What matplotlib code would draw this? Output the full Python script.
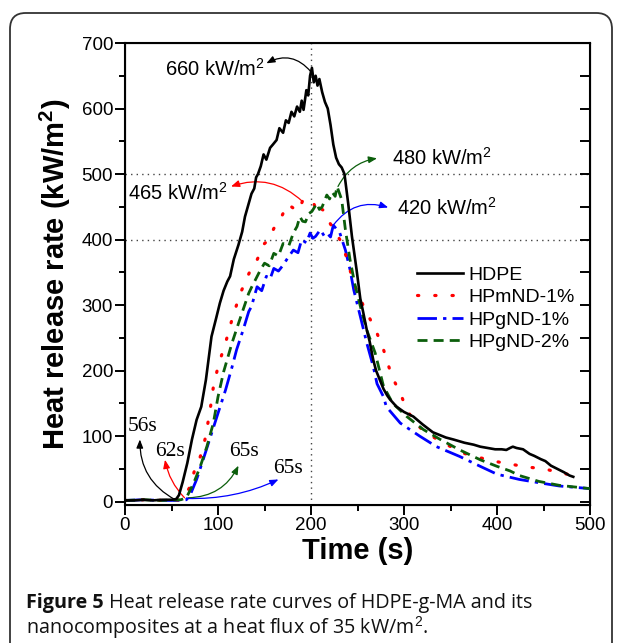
import numpy as np
import matplotlib
matplotlib.use("Agg")
import matplotlib.pyplot as plt
from matplotlib.patches import FancyBboxPatch
from matplotlib.ticker import MultipleLocator

plt.rcParams["font.family"] = ["Liberation Sans", "DejaVu Sans"]
plt.rcParams["mathtext.fontset"] = "custom"
plt.rcParams["mathtext.rm"] = "Liberation Sans"
plt.rcParams["mathtext.bf"] = "Liberation Sans:bold"

# HDPE
t_hdpe = [0, 10, 20, 30, 40, 50, 55, 58, 62, 67, 72, 77, 82, 87, 93, 98, 102, 106, 110, 113,
          117, 122, 126, 129, 133, 136, 139, 141, 143, 146, 149, 152, 156, 159, 163, 166, 170,
          173, 176, 179, 182, 185, 188, 190, 192, 195, 197, 199, 201, 203, 205, 207, 209, 212,
          215, 218, 221, 224, 227, 230, 233, 236, 240, 244, 249, 253, 256, 260, 263, 267, 270,
          274, 278, 282, 285, 292, 300, 310, 320, 331, 345, 353, 365, 375, 382, 390, 398, 405,
          410, 414, 417, 421, 428, 435, 440, 447, 452, 458, 465, 472, 478, 482]
hrr_hdpe = [2, 2, 3, 2, 3, 3, 4, 10, 30, 59, 95, 125, 145, 186, 252, 280, 303, 322, 336, 344,
            370, 392, 412, 435, 455, 470, 478, 495, 500, 512, 530, 522, 540, 545, 552, 570, 563,
            582, 578, 595, 588, 603, 595, 612, 598, 628, 620, 650, 662, 640, 650, 635, 645, 625,
            610, 600, 575, 545, 525, 515, 510, 500, 455, 405, 354, 310, 290, 262, 245, 216, 200,
            186, 172, 162, 156, 145, 137, 130, 118, 106, 98, 95, 90, 87, 84, 82, 80, 80,
            79, 82, 84, 82, 80, 73, 70, 65, 62, 55, 50, 45, 40, 38]

# HPmND-1%
t_pm1 = [0, 20, 40, 60, 64, 70, 75, 81, 86, 91, 95, 100, 109, 116, 124, 131, 137, 142, 150, 155,
         160, 165, 170, 175, 179, 183, 186, 189, 192, 197, 203, 207, 210, 215, 220, 231, 238, 246,
         256, 262, 271, 278, 287, 296, 303, 314, 324, 342, 364, 382, 400, 432, 452, 467, 476, 484]
hrr_pm1 = [2, 3, 2, 3, 8, 23, 49, 69, 95, 135, 175, 206, 247, 283, 318, 341, 360, 369, 394, 400,
           417, 425, 440, 436, 450, 446, 455, 452, 463, 458, 455, 440, 448, 443, 426, 400, 374, 333,
           300, 283, 257, 232, 191, 166, 140, 117, 105, 90, 74, 67, 61, 53, 50, 44, 42, 46]

# HPgND-1%
t_pg1 = [0, 20, 40, 60, 66, 70, 77, 84, 91, 100, 108, 115, 120, 127, 133, 136, 142, 147, 152, 156,
         160, 165, 170, 175, 181, 186, 190, 195, 199, 202, 205, 210, 214, 217, 221, 224, 228, 231,
         237, 242, 246, 253, 260, 267, 271, 278, 281, 296, 317, 335, 360, 382, 400, 424, 445, 467,
         500]
hrr_pg1 = [2, 3, 2, 2, 3, 10, 34, 64, 95, 135, 170, 205, 232, 262, 290, 298, 328, 322, 344, 340,
           356, 352, 361, 372, 384, 380, 400, 395, 410, 402, 405, 415, 406, 410, 404, 422, 415, 410,
           384, 354, 323, 283, 242, 206, 180, 160, 145, 120, 100, 84, 69, 54, 42, 34, 29, 24, 20]

# HPgND-2%
t_pg2 = [0, 20, 40, 60, 66, 74, 81, 88, 95, 100, 106, 115, 122, 127, 133, 137, 140, 145, 150, 155,
         160, 165, 170, 176, 181, 185, 188, 191, 194, 198, 201, 204, 206, 209, 212, 217, 220, 223,
         226, 228, 233, 237, 242, 247, 254, 260, 269, 278, 288, 303, 321, 339, 360, 382, 400, 414,
         424, 445, 467, 500]
hrr_pg2 = [2, 3, 2, 3, 6, 29, 54, 84, 120, 160, 198, 242, 272, 293, 318, 330, 338, 352, 364, 360,
           379, 375, 394, 390, 410, 420, 435, 428, 427, 440, 443, 450, 455, 446, 450, 468, 462, 472,
           466, 481, 461, 415, 369, 333, 293, 262, 227, 176, 150, 130, 110, 95, 79, 64, 54, 47,
           40, 31, 25, 20]

fig = plt.figure(figsize=(6.25, 6.43), dpi=100)

# outer rounded frame
frame = FancyBboxPatch((10 / 625, -0.05), 602 / 625, 1 - 13 / 643 + 0.05,
                       boxstyle="round,pad=0,rounding_size=0.025", transform=fig.transFigure,
                       facecolor="none", edgecolor="#333333", lw=1.3)
fig.patches.append(frame)

ax = fig.add_axes([125 / 625, 1 - 505 / 643, 465 / 625, 462 / 643])

ax.plot(t_hdpe, hrr_hdpe, color="black", lw=1.9, label="HDPE", zorder=5)
ax.plot(t_pm1, hrr_pm1, color="#ff0000", lw=2.3, linestyle=(0, (0.4, 5.0)),
        dash_capstyle="round", label="HPmND-1%", zorder=4)
ax.plot(t_pg1, hrr_pg1, color="#0000ff", lw=2.0, linestyle=(0, (7, 2.2, 1.2, 2.2)),
        label="HPgND-1%", zorder=3)
ax.plot(t_pg2, hrr_pg2, color="#0b5e0b", lw=2.0, linestyle=(0, (3.6, 2.2)),
        label="HPgND-2%", zorder=4)

ax.axhline(400, color="#444444", lw=1.0, linestyle=(0, (1, 3)), zorder=1)
ax.axhline(500, color="#444444", lw=1.0, linestyle=(0, (1, 3)), zorder=1)
ax.axvline(200, color="#444444", lw=1.0, linestyle=(0, (1, 3)), zorder=1)

ax.set_xlim(0, 500)
ax.set_ylim(-5, 700)
ax.xaxis.set_major_locator(MultipleLocator(100))
ax.xaxis.set_minor_locator(MultipleLocator(50))
ax.yaxis.set_major_locator(MultipleLocator(100))
ax.yaxis.set_minor_locator(MultipleLocator(50))
ax.tick_params(which="major", direction="out", length=7, width=1.4, labelsize=13.5, pad=1.5)
ax.tick_params(which="minor", direction="out", length=4, width=1.4)
ax.tick_params(which="both", right=False, top=False)
for sp in ax.spines.values():
    sp.set_linewidth(1.5)

# inward ticks on the right spine
axr = ax.twinx()
axr.set_ylim(ax.get_ylim())
axr.yaxis.set_major_locator(MultipleLocator(50))
axr.tick_params(direction="in", length=7, width=1.4, labelright=False)

ax.set_xlabel("Time (s)", fontsize=21, fontweight="bold", labelpad=2)
ax.set_ylabel(r"Heat release rate (kW/m$^\mathbf{2}$)", fontsize=21, fontweight="bold",
              labelpad=6)

leg = ax.legend(loc="center left", bbox_to_anchor=(0.627, 0.425), frameon=False,
                fontsize=14, handlelength=2.4, handletextpad=0.25, labelspacing=0.25,
                borderpad=0, borderaxespad=0)

# peak annotations
arr = dict(arrowstyle="-|>,head_length=0.5,head_width=0.2", lw=0.9, shrinkA=0, shrinkB=0)
ax.text(150, 660, r"660 kW/m$^2$", fontsize=14.5, ha="right", va="center")
ax.annotate("", xy=(152, 669), xytext=(200, 656),
            arrowprops=dict(arr, color="black", connectionstyle="arc3,rad=0.4"))
ax.text(111, 471, r"465 kW/m$^2$", fontsize=14.5, ha="right", va="center")
ax.annotate("", xy=(114, 481), xytext=(191, 458),
            arrowprops=dict(arr, color="red", connectionstyle="arc3,rad=0.3"))
ax.text(287, 524, r"480 kW/m$^2$", fontsize=14.5, ha="left", va="center")
ax.annotate("", xy=(271, 524), xytext=(229, 481),
            arrowprops=dict(arr, color="#0b5e0b", connectionstyle="arc3,rad=-0.25"))
ax.text(292, 448, r"420 kW/m$^2$", fontsize=14.5, ha="left", va="center")
ax.annotate("", xy=(283, 449), xytext=(224, 422),
            arrowprops=dict(arr, color="blue", connectionstyle="arc3,rad=-0.35"))

# ignition time annotations
serif = ["Liberation Serif", "DejaVu Serif"]
ax.text(19, 115, "56s", fontsize=15.5, family=serif, ha="center", va="center")
ax.annotate("", xy=(16, 95), xytext=(54, 3),
            arrowprops=dict(arr, color="black", connectionstyle="arc3,rad=-0.3"))
ax.text(48, 77, "62s", fontsize=15.5, family=serif, ha="center", va="center")
ax.annotate("", xy=(43, 64), xytext=(64, 6),
            arrowprops=dict(arr, color="red", connectionstyle="arc3,rad=-0.15"))
ax.text(128, 77, "65s", fontsize=15.5, family=serif, ha="center", va="center")
ax.annotate("", xy=(122, 55), xytext=(68, 6),
            arrowprops=dict(arr, color="#0b5e0b", connectionstyle="arc3,rad=0.3"))
ax.text(175, 51, "65s", fontsize=15.5, family=serif, ha="center", va="center")
ax.annotate("", xy=(165, 34), xytext=(66, 5),
            arrowprops=dict(arr, color="blue", connectionstyle="arc3,rad=0.12"))

# caption
cap_font = ["Open Sans", "DejaVu Sans"]
cap_size = 14.2
t1 = fig.text(26 / 625, 1 - 603 / 643, "Figure 5", fontsize=cap_size, fontweight="bold",
              family=cap_font, color="#111111", va="center")
ax.annotate(" Heat release rate curves of HDPE-g-MA and its", xy=(1, 0.5), xycoords=t1,
            va="center", ha="left", fontsize=cap_size, family=cap_font, color="#111111",
            annotation_clip=False)
fig.text(26 / 625, 1 - 628 / 643, "nanocomposites at a heat flux of 35 kW/m$^2$.",
         fontsize=cap_size, family=cap_font, color="#111111", va="center")

fig.savefig("out.png", dpi=100)
